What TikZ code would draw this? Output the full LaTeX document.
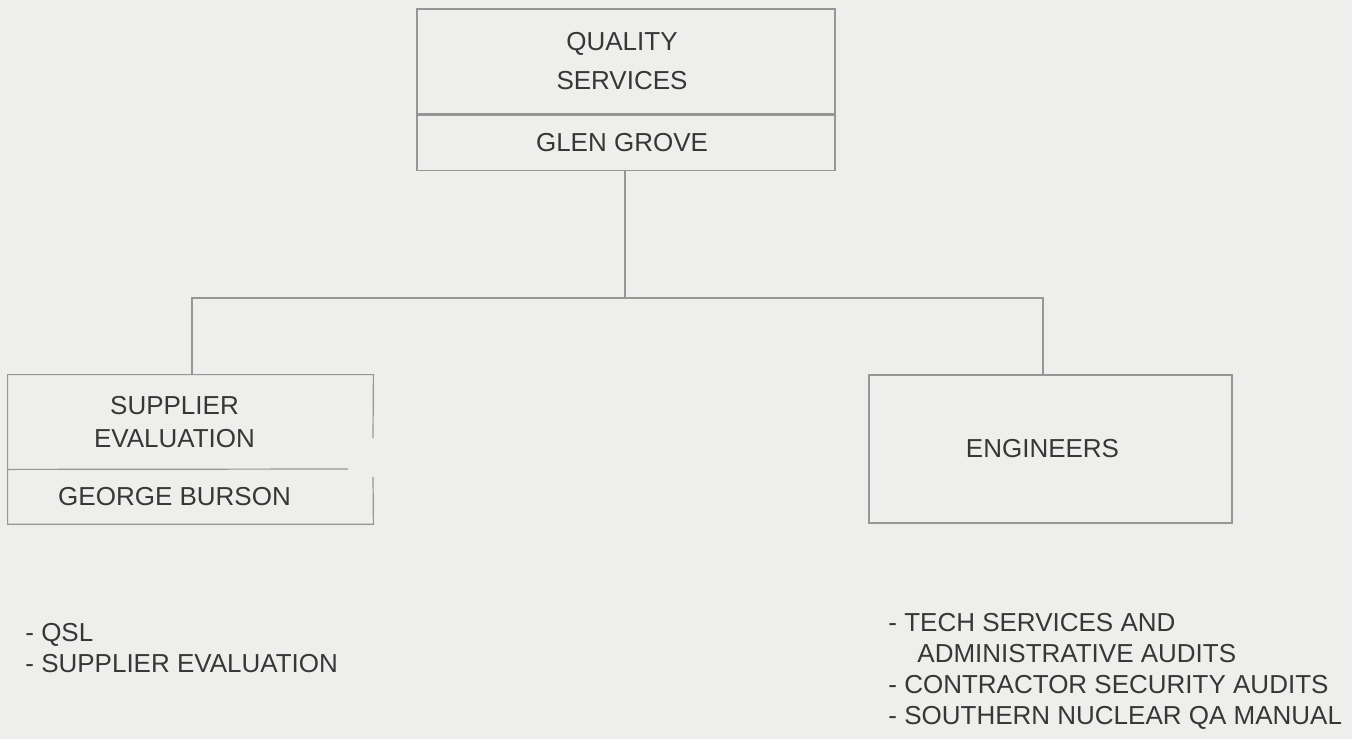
\documentclass[tikz,border=0pt]{standalone}
\usepackage{fontspec}
\setmainfont{Liberation Sans}
\usetikzlibrary{positioning}
\definecolor{paper}{RGB}{238,238,236}
\definecolor{rulegray}{RGB}{150,150,150}
\definecolor{inkgray}{RGB}{55,55,55}

\begin{document}
\begin{tikzpicture}[x=0.5pt, y=-0.5pt,
    every node/.style={text=inkgray, font=\fontsize{13}{16.5}\selectfont},
    unit/.style={rectangle, inner sep=0pt, align=center},
    rule/.style={draw=rulegray, line width=0.6pt},
    duties/.style={inner sep=0pt, align=left, anchor=north west,
      font=\fontsize{13}{15.5}\selectfont}]

    \useasboundingbox[fill=paper] (0,0) rectangle (1352,739);

    % Jefe
    \node[unit, rule, minimum width=209pt, minimum height=52.5pt,
      font=\fontsize{13}{19.5}\selectfont] (qs) at (626,61.5) {QUALITY\hspace*{4pt}\\SERVICES\hspace*{4pt}};
    \node[unit, rule, minimum width=209pt, minimum height=27.5pt,
      below=0pt of qs] (gg) {GLEN GROVE\hspace*{4pt}};

    % Grupos
    \node[unit, minimum width=182.5pt, minimum height=47pt] (sup) at (190.5,422)
      {SUPPLIER\hspace*{16pt}\\EVALUATION\hspace*{16pt}};
    \node[unit, minimum width=182.5pt, minimum height=27pt, below=0pt of sup] (gb)
      {GEORGE BURSON\hspace*{16pt}};
    \node[unit, rule, minimum width=181.5pt, minimum height=74pt] (eng) at (1050.5,449)
      {ENGINEERS\hspace*{8pt}};

    % Borde del grupo izquierdo (con hueco)
    \coordinate (gaptop) at (373,438);
    \coordinate (gapbot) at (373,477);
    \coordinate (divend) at (348,469);
    \draw[rule] (gaptop) -- (sup.north east) -- (sup.north west) -- (gb.south west)
      -- (gb.south east) -- (gapbot);
    \draw[rule] (sup.south west) -- (divend);

    % Lineas
    \coordinate (split) at (625,298);
    \coordinate (jl) at (192,298);
    \coordinate (jr) at (1043,298);
    \draw[rule] (gg.south -| split) -- (split);
    \draw[rule] (jl |- sup.north) -- (jl) -- (jr) -- (jr |- eng.north);

    % Tareas
    \node[duties] (supjobs) at (25,623) {- QSL\\- SUPPLIER EVALUATION};
    \node[duties] (engjobs) at (888,613) {- TECH SERVICES AND\\
      \hspace*{14.5pt}ADMINISTRATIVE AUDITS\\- CONTRACTOR SECURITY AUDITS\\- SOUTHERN NUCLEAR QA MANUAL};
  \end{tikzpicture}
\end{document}
